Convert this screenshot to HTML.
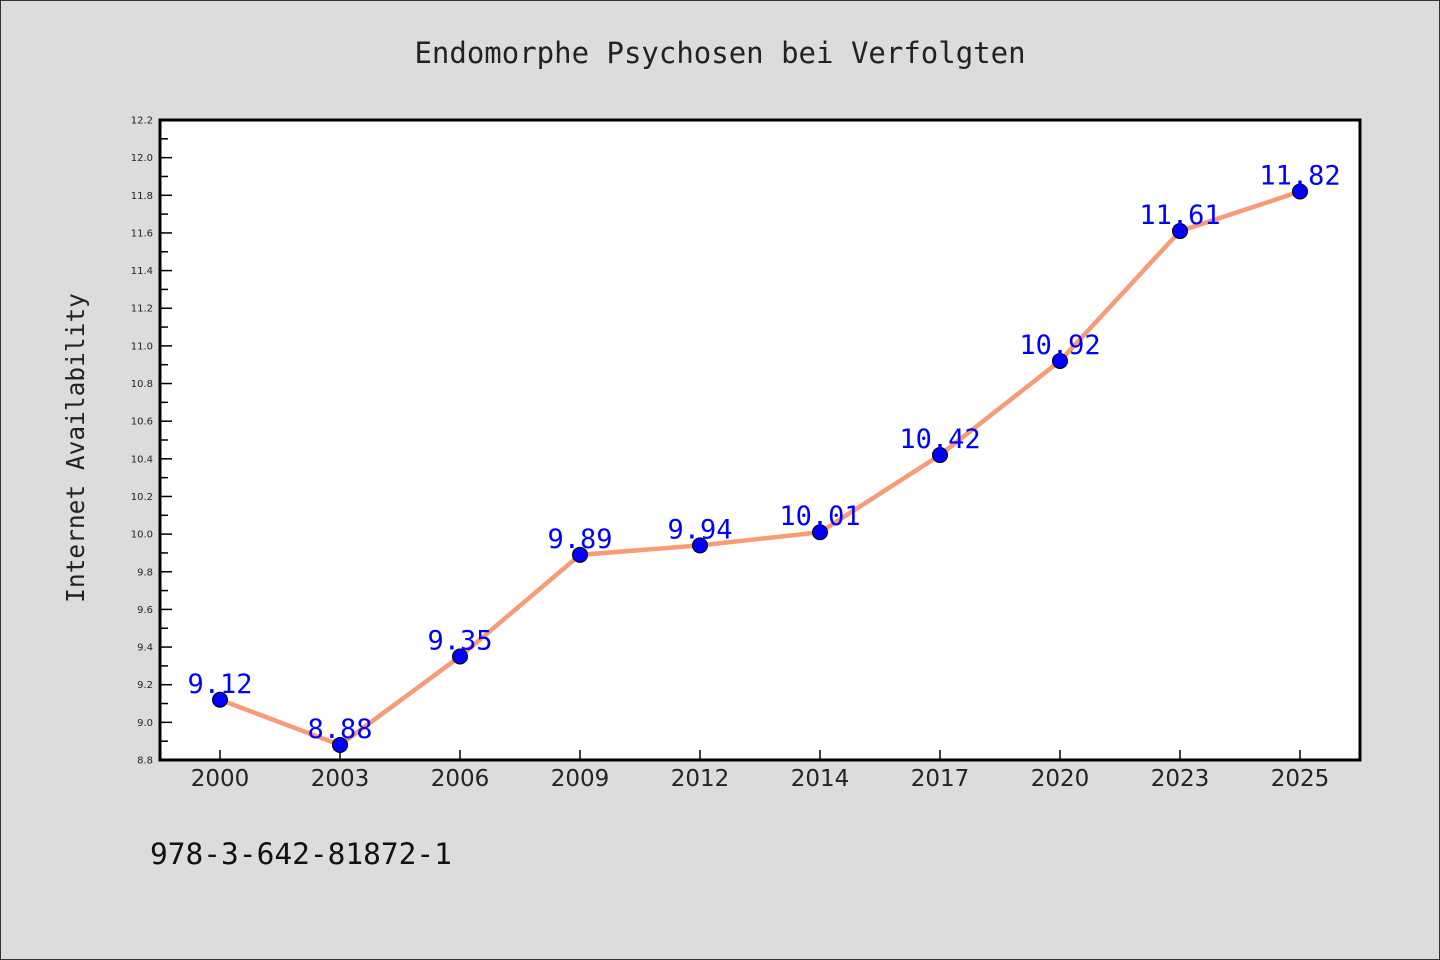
<!DOCTYPE html>
<html><head><meta charset="utf-8"><style>
body{margin:0;background:#dcdcdc;}
svg{display:block;font-family:"DejaVu Sans Mono","Liberation Mono",monospace;}
.sans{font-family:"DejaVu Sans","Liberation Sans",sans-serif;}
</style></head><body>
<svg id="chart" width="1440" height="960">
<rect x="0.5" y="0.5" width="1439" height="959" fill="#dcdcdc" stroke="#333"/>
<text x="720" y="63" text-anchor="middle" font-size="29" fill="#222">Endomorphe Psychosen bei Verfolgten</text>
<rect x="160" y="120" width="1200" height="640" fill="#fff"/>
<g id="ticks"></g>
<g id="marks"></g>
<rect x="160" y="120" width="1200" height="640" fill="none" stroke="#000" stroke-width="3"/>
<text transform="translate(84,448) rotate(-90)" text-anchor="middle" font-size="24.5" fill="#222">Internet Availability</text>
<text x="150" y="864" font-size="29.5" fill="#111">978-3-642-81872-1</text>
</svg>
<script>
const categories=["2000","2003","2006","2009","2012","2014","2017","2020","2023","2025"];
const values=[9.12,8.88,9.35,9.89,9.94,10.01,10.42,10.92,11.61,11.82];
const yTicks=["8.8","9.0","9.2","9.4","9.6","9.8","10.0","10.2","10.4","10.6","10.8","11.0","11.2","11.4","11.6","11.8","12.0","12.2"];
const NS="http://www.w3.org/2000/svg";
const yMin=8.8,yMax=12.2,plotTop=120,plotBottom=760,plotLeft=160;
function yS(v){return plotBottom-(v-yMin)/(yMax-yMin)*(plotBottom-plotTop);}
function xS(i){return 220+i*120;}
function mk(t,a,p){const e=document.createElementNS(NS,t);for(const k in a)e.setAttribute(k,a[k]);p.appendChild(e);return e;}
const tk=document.getElementById('ticks'),mg=document.getElementById('marks');
yTicks.forEach((t,i)=>{const v=parseFloat(t),yy=yS(v);
 const l=mk('line',{x1:plotLeft,x2:plotLeft+12,y1:yy,y2:yy,stroke:'#000','stroke-width':1.5},tk);
 
 
 const tx=mk('text',{x:153,y:yy+3.5,'text-anchor':'end','font-size':10,fill:'#222',class:'sans'},tk);
 tx.textContent=t;
 
 
 if(i<yTicks.length-1){const ym=yS(v+0.1);
  const m=mk('line',{x1:plotLeft,x2:plotLeft+8,y1:ym,y2:ym,stroke:'#000','stroke-width':1.5},tk);
  
  }
});
categories.forEach((c,i)=>{
 const l=mk('line',{x1:xS(i),x2:xS(i),y1:plotBottom,y2:plotBottom-10,stroke:'#000','stroke-width':1.5},tk);
 
 
 const t=mk('text',{x:xS(i),y:786,'text-anchor':'middle','font-size':23,fill:'#222',class:'sans'},tk);
 t.textContent=c;
 
 
});
const line=mk('polyline',{points:values.map((v,i)=>xS(i)+','+yS(v)).join(' '),fill:'none',stroke:'#f99b77','stroke-width':4.5},mg);


values.forEach((v,i)=>{
 const c=mk('circle',{cx:xS(i),cy:yS(v),r:7.5,fill:'#0000ff',stroke:'#000','stroke-width':1},mg);
 
 
 const t=mk('text',{x:xS(i),y:yS(v)-7,'text-anchor':'middle','font-size':27,fill:'#0000ff'},mg);
 t.textContent=v.toFixed(2);
 
 
});
</script>
</body></html>
